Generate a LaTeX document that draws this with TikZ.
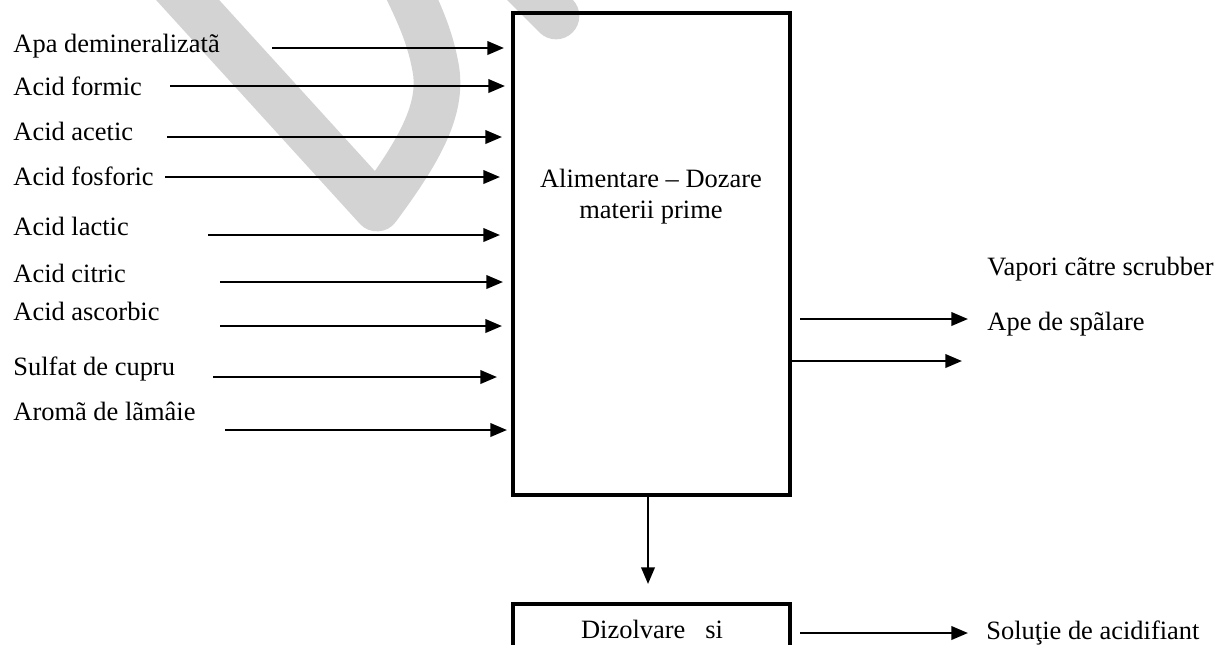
\documentclass[tikz,border=0pt]{standalone}
\usepackage{fontspec}
\setmainfont{Liberation Serif}
\usetikzlibrary{arrows.meta}
\definecolor{wm}{RGB}{211,211,211}
\begin{document}
\begin{tikzpicture}[x=0.45pt, y=-0.45pt,
  lbl/.style={font=\fontsize{11.9pt}{14pt}\selectfont, inner sep=0pt, anchor=base west},
  ctr/.style={font=\fontsize{11.9pt}{14pt}\selectfont, inner sep=0pt, align=center},
  arr/.style={line width=1.2pt, -{Triangle[length=7.5pt,width=6pt]}},
  boxn/.style={draw, line width=1.8pt, inner sep=0pt, minimum width=124.65pt},
  wmark/.style={draw=wm, line width=21pt, line cap=round, line join=round}]
\useasboundingbox (0,0) rectangle (1221,644);
\clip (0,0) rectangle (1221,644);
% watermark
\draw[wmark] (133,-60) -- (377,208) .. controls (420,150) and (442,110) .. (436,70) .. controls (430,35) and (418,10) .. (398,-30);
\draw[wmark] (500,-40) -- (556,16);
% boxes
\node[boxn, minimum height=216.9pt] (alim) at (651.5,254) {};
\node[ctr] (alimtxt) at (651,197) {Alimentare – Dozare\\materii prime};
\node[boxn, minimum height=60pt, anchor=north] (diz) at (651.5,602) {};
\node[lbl, anchor=base] (diztxt) at (652,638) {Dizolvare\ \ \ si};
% left labels
\node[lbl] (l1) at (13,52) {Apa demineralizatã};
\node[lbl] (l2) at (13,95) {Acid formic};
\node[lbl] (l3) at (13,140) {Acid acetic};
\node[lbl] (l4) at (13,185) {Acid fosforic};
\node[lbl] (l5) at (13,235) {Acid lactic};
\node[lbl] (l6) at (13,282) {Acid citric};
\node[lbl] (l7) at (13,320) {Acid ascorbic};
\node[lbl] (l8) at (13,375) {Sulfat de cupru};
\node[lbl] (l9) at (13,420) {Aromã de lãmâie};
% right labels
\node[lbl] (r0) at (987,275) {Vapori cãtre scrubber};
\node[lbl] (r1) at (987,330) {Ape de spãlare};
\node[lbl] (r3) at (986,639) {Soluţie de acidifiant};
% coordinates
\coordinate (s1) at (272,48);  \coordinate (e1) at (504,48);
\coordinate (s2) at (170,86);  \coordinate (e2) at (505,86);
\coordinate (s3) at (167,137); \coordinate (e3) at (502,137);
\coordinate (s4) at (165,177); \coordinate (e4) at (500,177);
\coordinate (s5) at (208,235); \coordinate (e5) at (500,235);
\coordinate (s6) at (220,282); \coordinate (e6) at (503,282);
\coordinate (s7) at (220,326); \coordinate (e7) at (502,326);
\coordinate (s8) at (213,377); \coordinate (e8) at (497,377);
\coordinate (s9) at (225,430); \coordinate (e9) at (507,430);
\coordinate (rs1) at (800,319); \coordinate (re1) at (968,319);
\coordinate (rs2) at (792,361); \coordinate (re2) at (962,361);
\coordinate (ds) at (648,496);  \coordinate (de) at (648,584);
\coordinate (bs) at (800,633);  \coordinate (be) at (968,633);
% arrows
\foreach \i in {1,...,9} {\draw[arr] (s\i) -- (e\i);}
\draw[arr] (rs1) -- (re1);
\draw[arr] (rs2) -- (re2);
\draw[arr] (ds) -- (de);
\draw[arr] (bs) -- (be);
\end{tikzpicture}
\end{document}
